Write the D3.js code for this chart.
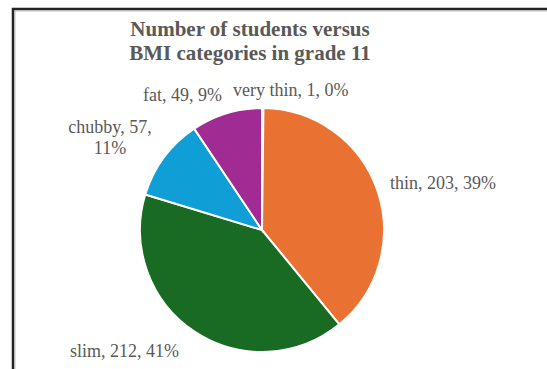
<!DOCTYPE html>
<html><head><meta charset="utf-8">
<script src="https://cdn.jsdelivr.net/npm/d3@7"></script>
<style>body{margin:0;background:#fff}svg{display:block}</style>
</head><body>
<script>
const categories = ["very thin", "thin", "slim", "chubby", "fat"];
const values = [1, 203, 212, 57, 49];
const percents = ["0%", "39%", "41%", "11%", "9%"];
const colors = ["#156082", "#E97132", "#196B24", "#0F9ED5", "#A02B93"];
const titleLines = ["Number of students versus", "BMI categories in grade 11"];

const W = 547, H = 369;
const svg = d3.select("body").append("svg").attr("width", W).attr("height", H);

// frame
svg.append("path").attr("d", `M13,${H} L13,9 L${W},9`).attr("fill", "none")
  .attr("stroke", "#222").attr("stroke-width", 2.5);
svg.append("path").attr("d", `M15,${H} L15,11 L${W},11`).attr("fill", "none")
  .attr("stroke", "#aaa").attr("stroke-width", 0.8);

// title
const title = svg.append("text").attr("text-anchor", "middle")
  .attr("font-family", "Liberation Serif, Times New Roman, serif")
  .attr("font-weight", "bold").attr("font-size", 21).attr("fill", "#595959");
titleLines.forEach((t, i) => title.append("tspan").attr("x", 250).attr("y", 36 + i * 24).text(t));

const cx = 262, cy = 230, r = 122;
const data = categories.map((c, i) => ({ c, v: values[i], p: percents[i], col: colors[i] }));
const pie = d3.pie().value(d => d.v).sort(null);
const arc = d3.arc().innerRadius(0).outerRadius(r);
const g = svg.append("g").attr("transform", `translate(${cx},${cy})`);
g.selectAll("path").data(pie(data)).join("path")
  .attr("d", arc).attr("fill", d => d.data.col)
  .attr("stroke", "#fff").attr("stroke-width", 2);

// labels
const labelPos = [
  { x: 233, y: 96, anchor: "start", lines: 1 },
  { x: 390, y: 189, anchor: "start", lines: 1 },
  { x: 70, y: 357, anchor: "start", lines: 1 },
  { x: 110, y: 133, anchor: "middle", lines: 2 },
  { x: 143, y: 101, anchor: "start", lines: 1 }
];
const lab = svg.append("g").attr("font-family", "Liberation Serif, Times New Roman, serif")
  .attr("font-size", 18).attr("fill", "#595959");
data.forEach((d, i) => {
  const lp = labelPos[i];
  const t = lab.append("text").attr("text-anchor", lp.anchor);
  if (lp.lines === 1) {
    t.append("tspan").attr("x", lp.x).attr("y", lp.y).text(`${d.c}, ${d.v}, ${d.p}`);
  } else {
    t.append("tspan").attr("x", lp.x).attr("y", lp.y).text(`${d.c}, ${d.v},`);
    t.append("tspan").attr("x", lp.x).attr("y", lp.y + 21).text(d.p);
  }
});
</script>
</body></html>
